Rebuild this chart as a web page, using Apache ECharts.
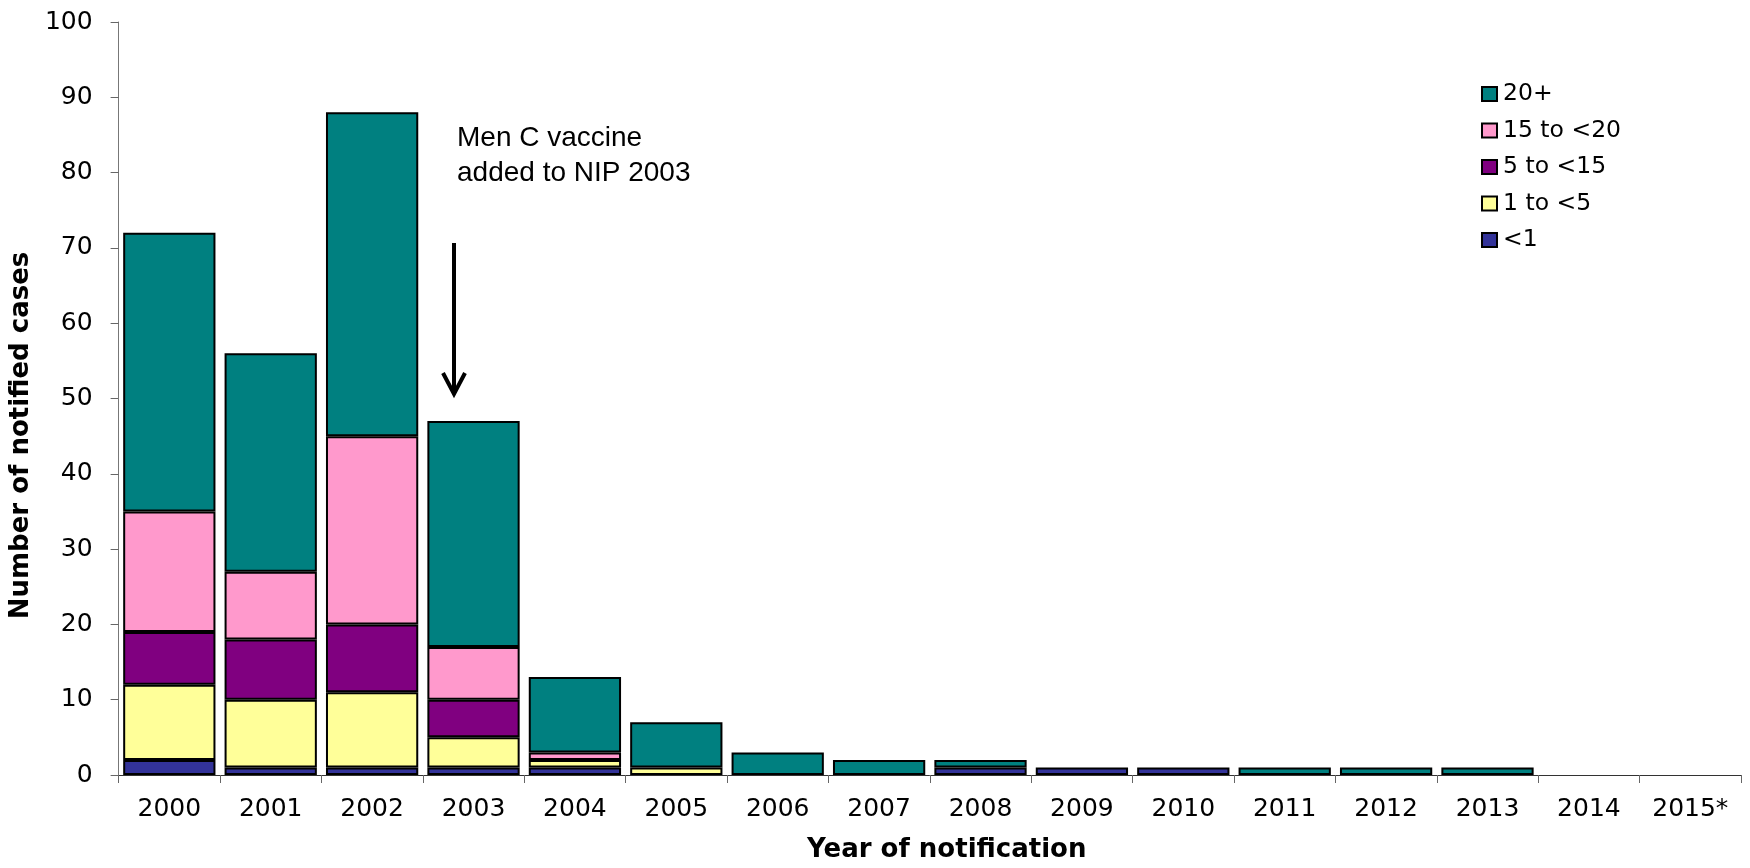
<!DOCTYPE html>
<html>
<head>
<meta charset="utf-8">
<script src="https://cdn.jsdelivr.net/npm/echarts@6/dist/echarts.min.js"></script>
<style>
html,body{margin:0;padding:0;background:#fff;}
#chart{width:1750px;height:868px;}
</style>
</head>
<body>
<div id="chart"></div>
<script>
const years = ['2000','2001','2002','2003','2004','2005','2006','2007','2008','2009','2010','2011','2012','2013','2014','2015*'];
const under1   = [2, 1, 1, 1, 1, 0, 0, 0, 1, 1, 1, 0, 0, 0, 0, 0];
const age1to5  = [10, 9, 10, 4, 1, 1, 0, 0, 0, 0, 0, 0, 0, 0, 0, 0];
const age5to15 = [7, 8, 9, 5, 0, 0, 0, 0, 0, 0, 0, 0, 0, 0, 0, 0];
const age15to20= [16, 9, 25, 7, 1, 0, 0, 0, 0, 0, 0, 0, 0, 0, 0, 0];
const age20plus= [37, 29, 43, 30, 10, 6, 3, 2, 1, 0, 0, 1, 1, 1, 0, 0];
const yTicks = {min: 0, max: 100, interval: 10};

const seriesDefs = [
  {name: '<1', data: under1, color: '#333399'},
  {name: '1 to <5', data: age1to5, color: '#FFFF99'},
  {name: '5 to <15', data: age5to15, color: '#800080'},
  {name: '15 to <20', data: age15to20, color: '#FF99CC'},
  {name: '20+', data: age20plus, color: '#008080'}
];

const chart = echarts.init(document.getElementById('chart'));
const tickFont = {fontFamily: 'DejaVu Sans', fontSize: 25, color: '#000'};

chart.setOption({
  backgroundColor: '#fff',
  animation: false,
  grid: {left: 113, right: 9, top: 22, bottom: 86},
  legend: {
    orient: 'vertical',
    left: 1481,
    top: 82,
    padding: 0,
    icon: 'rect',
    itemWidth: 15,
    itemHeight: 14,
    itemGap: 12.5,
    data: ['20+', '15 to <20', '5 to <15', '1 to <5', '<1'],
    textStyle: {fontFamily: 'DejaVu Sans', fontSize: 23.5, lineHeight: 22, color: '#000', padding: [0, 0, 0, 1]}
  },
  xAxis: {
    type: 'category',
    data: years,
    name: 'Year of notification',
    nameLocation: 'middle',
    nameGap: 62,
    nameTextStyle: {fontFamily: 'DejaVu Sans', fontWeight: 'bold', fontSize: 26, color: '#000', padding: [0, 0, 0, 34]},
    axisLine: {lineStyle: {color: '#333', width: 1}},
    axisTick: {show: true, alignWithLabel: false, length: 8, lineStyle: {color: '#666'}},
    axisLabel: Object.assign({margin: 22, interval: 0}, tickFont)
  },
  yAxis: {
    type: 'value',
    min: yTicks.min,
    max: yTicks.max,
    interval: yTicks.interval,
    name: 'Number of notified cases',
    nameLocation: 'middle',
    nameGap: 75,
    nameTextStyle: {fontFamily: 'DejaVu Sans', fontWeight: 'bold', fontSize: 26, color: '#000', padding: [0, 74, 0, 0]},
    axisLine: {show: true, lineStyle: {color: '#777', width: 1}},
    axisTick: {show: true, length: 8, lineStyle: {color: '#666'}},
    splitLine: {show: false},
    axisLabel: Object.assign({margin: 26}, tickFont)
  },
  series: seriesDefs.map(s => ({
    name: s.name,
    type: 'bar',
    stack: 'total',
    barCategoryGap: '9%',
    data: s.data.map(v => v === 0 ? null : v),
    itemStyle: {color: s.color, borderColor: '#000', borderWidth: 2}
  })),
  graphic: [
    {
      type: 'text',
      left: 457,
      top: 121,
      style: {
        text: 'Men C vaccine\nadded to NIP 2003',
        font: '28px "Liberation Sans", Arial, sans-serif',
        lineHeight: 35,
        fill: '#000'
      }
    },
    {
      type: 'line',
      shape: {x1: 454, y1: 243, x2: 454, y2: 393},
      style: {stroke: '#000', lineWidth: 4}
    },
    {
      type: 'polyline',
      shape: {points: [[443, 373], [454, 394], [465, 373]]},
      style: {stroke: '#000', lineWidth: 4, fill: null}
    }
  ]
});
</script>
</body>
</html>
